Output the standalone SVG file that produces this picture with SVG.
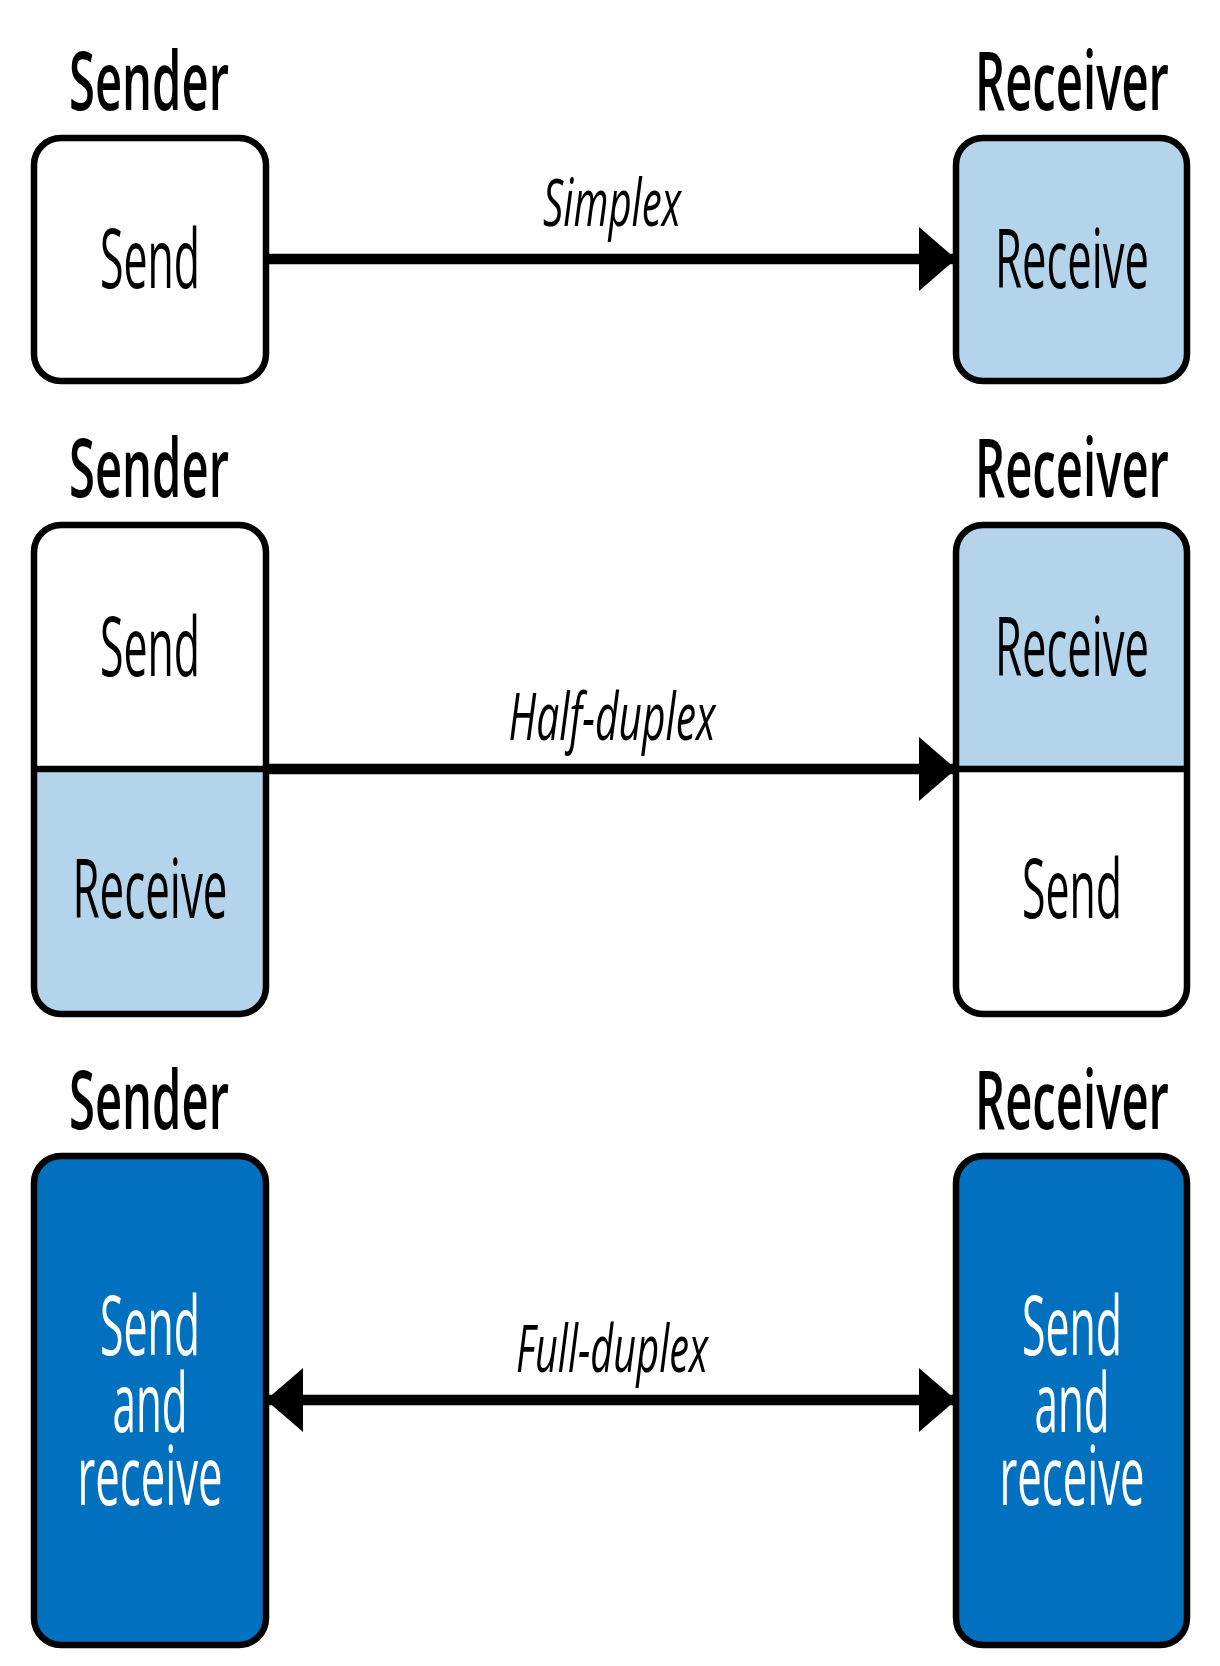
<svg xmlns="http://www.w3.org/2000/svg" width="1220" height="1666" viewBox="0 0 1220 1666">
<defs>
<style>
.t{font-family:"Open Sans","Noto Sans","Liberation Sans",sans-serif;font-size:82px;font-weight:500;text-anchor:middle;fill:#000}
.h{font-weight:600}
.w{fill:#fff}
.i{font-family:"Open Sans","Noto Sans","Liberation Sans",sans-serif;font-size:66px;font-weight:500;font-style:italic;text-anchor:middle;fill:#000}
.box{stroke:#000;stroke-width:6.5}
.line{stroke:#000;stroke-width:10.5;fill:none}
</style>
<marker id="ah" viewBox="0 0 37 64" refX="37" refY="32" markerWidth="37" markerHeight="64" markerUnits="userSpaceOnUse" orient="auto-start-reverse">
<path d="M0,0 L37,32 L0,64 Z" fill="#000"/>
</marker>
</defs>
<rect width="1220" height="1666" fill="#fff"/>

<g id="connectors">
<line class="line" x1="266" y1="259" x2="956" y2="259" marker-end="url(#ah)"/>
<line class="line" x1="266" y1="769" x2="956" y2="769" marker-end="url(#ah)"/>
<line class="line" x1="266" y1="1400" x2="956" y2="1400" marker-start="url(#ah)" marker-end="url(#ah)"/>
<text class="i" x="612" y="226" textLength="138" lengthAdjust="spacingAndGlyphs">Simplex</text>
<text class="i" x="612" y="740" textLength="207" lengthAdjust="spacingAndGlyphs">Half-duplex</text>
<text class="i" x="612" y="1372" textLength="192" lengthAdjust="spacingAndGlyphs">Full-duplex</text>
</g>

<g id="simplex-sender">
<text class="t h" x="149" y="110" textLength="160" lengthAdjust="spacingAndGlyphs">Sender</text>
<rect class="box" x="34" y="138" width="232" height="243" rx="27" fill="#fff"/>
<text class="t" x="150" y="288" textLength="100" lengthAdjust="spacingAndGlyphs">Send</text>
</g>

<g id="simplex-receiver">
<text class="t h" x="1072" y="110" textLength="194" lengthAdjust="spacingAndGlyphs">Receiver</text>
<rect class="box" x="956" y="138" width="231" height="243" rx="27" fill="#b3d4ea"/>
<text class="t" x="1072" y="288" textLength="154" lengthAdjust="spacingAndGlyphs">Receive</text>
</g>

<g id="half-sender">
<text class="t h" x="149" y="497" textLength="160" lengthAdjust="spacingAndGlyphs">Sender</text>
<path d="M34,769 V552 A27,27 0 0 1 61,525 H239 A27,27 0 0 1 266,552 V769 Z" fill="#fff"/>
<path d="M34,769 V987 A27,27 0 0 0 61,1014 H239 A27,27 0 0 0 266,987 V769 Z" fill="#b3d4ea"/>
<rect class="box" x="34" y="525" width="232" height="489" rx="27" fill="none"/>
<line class="box" x1="34" y1="769" x2="266" y2="769"/>
<text class="t" x="150" y="676" textLength="100" lengthAdjust="spacingAndGlyphs">Send</text>
<text class="t" x="150" y="918" textLength="155" lengthAdjust="spacingAndGlyphs">Receive</text>
</g>

<g id="half-receiver">
<text class="t h" x="1072" y="497" textLength="194" lengthAdjust="spacingAndGlyphs">Receiver</text>
<path d="M956,769 V552 A27,27 0 0 1 983,525 H1160 A27,27 0 0 1 1187,552 V769 Z" fill="#b3d4ea"/>
<path d="M956,769 V987 A27,27 0 0 0 983,1014 H1160 A27,27 0 0 0 1187,987 V769 Z" fill="#fff"/>
<rect class="box" x="956" y="525" width="231" height="489" rx="27" fill="none"/>
<line class="box" x1="956" y1="769" x2="1187" y2="769"/>
<text class="t" x="1072" y="676" textLength="154" lengthAdjust="spacingAndGlyphs">Receive</text>
<text class="t" x="1072" y="918" textLength="100" lengthAdjust="spacingAndGlyphs">Send</text>
</g>

<g id="full-sender">
<text class="t h" x="149" y="1129" textLength="160" lengthAdjust="spacingAndGlyphs">Sender</text>
<rect class="box" x="34" y="1156" width="232" height="489" rx="27" fill="#0070bf"/>
<text class="t w" x="150" y="1355" textLength="100" lengthAdjust="spacingAndGlyphs">Send</text>
<text class="t w" x="150" y="1432" textLength="75" lengthAdjust="spacingAndGlyphs">and</text>
<text class="t w" x="150" y="1505" textLength="145" lengthAdjust="spacingAndGlyphs">receive</text>
</g>

<g id="full-receiver">
<text class="t h" x="1072" y="1129" textLength="194" lengthAdjust="spacingAndGlyphs">Receiver</text>
<rect class="box" x="956" y="1156" width="231" height="489" rx="27" fill="#0070bf"/>
<text class="t w" x="1072" y="1355" textLength="100" lengthAdjust="spacingAndGlyphs">Send</text>
<text class="t w" x="1072" y="1432" textLength="75" lengthAdjust="spacingAndGlyphs">and</text>
<text class="t w" x="1072" y="1505" textLength="145" lengthAdjust="spacingAndGlyphs">receive</text>
</g>
</svg>
